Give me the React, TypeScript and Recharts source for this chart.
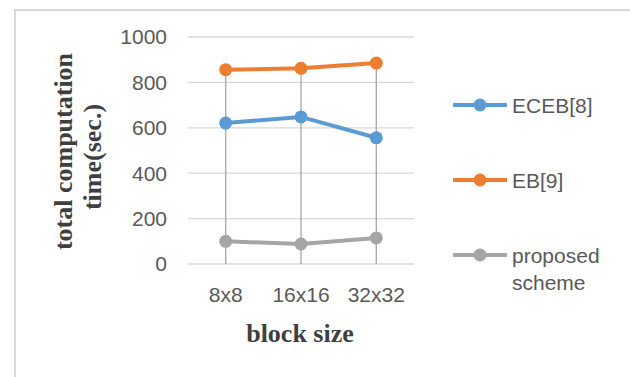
import React from 'react';
import { LineChart, Line, XAxis, YAxis, CartesianGrid, Legend, ReferenceLine, Label } from 'recharts';

const blockSizes = ['8x8', '16x16', '32x32'];
const ecebTimes = [621, 648, 556];
const ebTimes = [856, 862, 885];
const proposedTimes = [100, 88, 115];
const yTicks = [0, 200, 400, 600, 800, 1000];

const SERIES = [
	{ key: 'eceb', name: 'ECEB[8]', color: '#5B9BD5' },
	{ key: 'eb', name: 'EB[9]', color: '#ED7D31' },
	{ key: 'proposed', name: 'proposed scheme', color: '#A5A5A5' },
];

const data = blockSizes.map((size, i) => ({
	size,
	eceb: ecebTimes[i],
	eb: ebTimes[i],
	proposed: proposedTimes[i],
}));

// Excel-style drop lines: from the highest point of each category down to the axis
const dropTops = blockSizes.map((_, i) => Math.max(ecebTimes[i], ebTimes[i], proposedTimes[i]));

const TICK_FONT = { fontFamily: '"Liberation Sans", Arial, sans-serif', fontSize: 21, fill: '#595959' };
const TITLE_FONT = { fontFamily: '"Liberation Serif", "Times New Roman", serif', fontSize: 26, fontWeight: 700, fill: '#3F3F3F' };

const renderLegend = () => (
	<div style={{ fontFamily: TICK_FONT.fontFamily, fontSize: 21, color: '#595959' }}>
		{SERIES.map((s) => (
			<div key={s.key} style={{ position: 'relative', height: 75 }}>
				<svg width={56} height={14} style={{ position: 'absolute', left: 0, top: 5 }}>
					<line x1={0} y1={7} x2={54} y2={7} stroke={s.color} strokeWidth={4} />
					<circle cx={27} cy={7} r={6.5} fill={s.color} />
				</svg>
				<div style={{ position: 'absolute', left: 59, top: -1, lineHeight: '27px', width: 110 }}>
					{s.key === 'proposed' ? (
						<>
							proposed
							<br />
							scheme
						</>
					) : (
						s.name
					)}
				</div>
			</div>
		))}
	</div>
);

export default function App() {
	return (
		<div style={{ position: 'absolute', left: 0, top: 0, width: 630, height: 377, overflow: 'hidden', background: '#fff' }}>
			<div
				style={{
					position: 'absolute',
					left: 14,
					top: 9,
					width: 700,
					height: 500,
					border: '2px solid #D9D9D9',
				}}
			/>
			<div style={{ position: 'absolute', left: 0, top: 0 }}>
				<LineChart width={630} height={377} data={data} margin={{ top: 37, right: 216, bottom: 83, left: 0 }}>
					<CartesianGrid vertical={false} stroke="#D9D9D9" strokeWidth={1.3} />
					<XAxis
						dataKey="size"
						height={30}
						axisLine={false}
						tickLine={false}
						tickSize={0}
						tickMargin={23}
						padding={{ left: 37.7, right: 37.7 }}
						tick={TICK_FONT}
					>
						<Label
							content={() => (
								<text x={300} y={342} textAnchor="middle" {...TITLE_FONT}>
									block size
								</text>
							)}
						/>
					</XAxis>
					<YAxis
						width={188}
						domain={[0, 1000]}
						ticks={yTicks}
						axisLine={false}
						tickLine={false}
						tickSize={0}
						tickMargin={21}
						tick={TICK_FONT}
					>
						<Label
							content={() => (
								<g>
									<text transform="translate(72,151.5) rotate(-90)" textAnchor="middle" {...TITLE_FONT}>
										total computation
									</text>
									<text transform="translate(101,157) rotate(-90)" textAnchor="middle" {...TITLE_FONT}>
										time(sec.)
									</text>
								</g>
							)}
						/>
					</YAxis>
					{blockSizes.map((size, i) => (
						<ReferenceLine
							key={size}
							segment={[
								{ x: size, y: 0 },
								{ x: size, y: dropTops[i] },
							]}
							stroke="#A6A6A6"
							strokeWidth={1.3}
						/>
					))}
					{SERIES.map((s) => (
						<Line
							key={s.key}
							dataKey={s.key}
							name={s.name}
							stroke={s.color}
							strokeWidth={4}
							dot={{ r: 6.5, fill: s.color, stroke: s.color, strokeWidth: 0 }}
							activeDot={false}
							isAnimationActive={false}
						/>
					))}
					<Legend
						layout="vertical"
						align="center"
						verticalAlign="middle"
						content={renderLegend}
						wrapperStyle={{ left: 453, top: 93, width: 180, height: 230 }}
					/>
				</LineChart>
			</div>
		</div>
	);
}
